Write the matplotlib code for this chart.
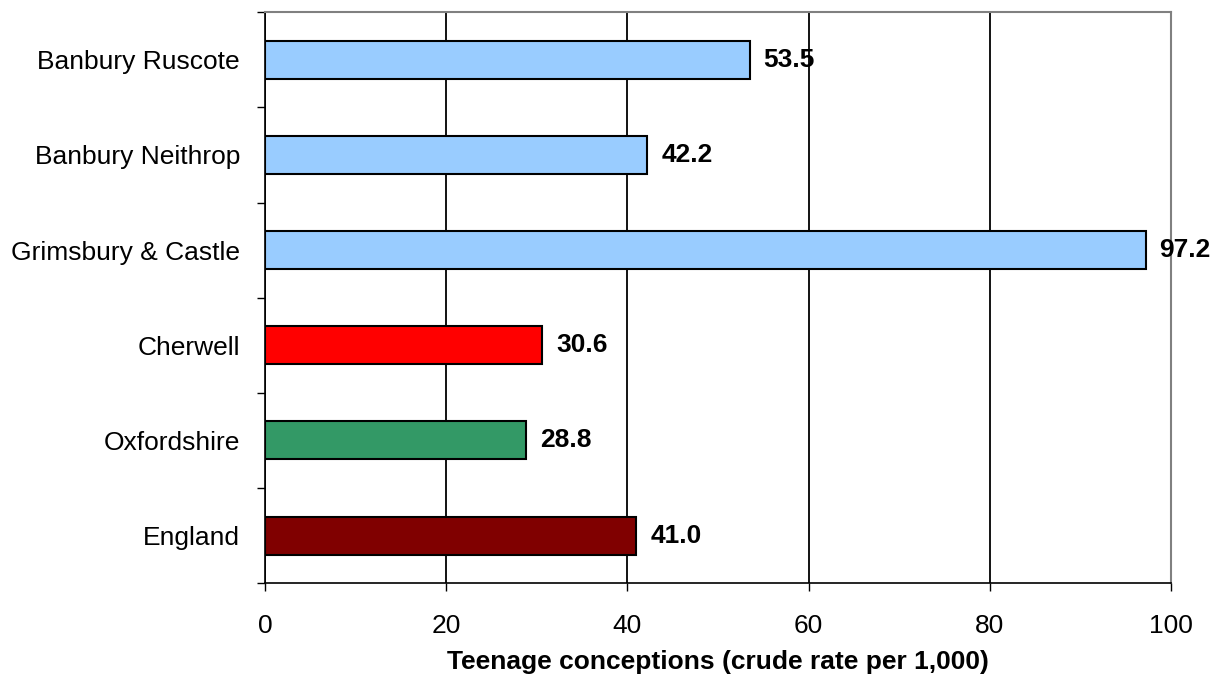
import numpy as np
import matplotlib.pyplot as plt

areas = ['Banbury Ruscote', 'Banbury Neithrop', 'Grimsbury & Castle',
         'Cherwell', 'Oxfordshire', 'England']
rates = [53.5, 42.2, 97.2, 30.6, 28.8, 41.0]
bar_colors = ['#99CCFF', '#99CCFF', '#99CCFF', '#FF0000', '#339966', '#800000']

plt.rcParams['font.family'] = ['Liberation Sans', 'DejaVu Sans']

fig = plt.figure(figsize=(12.21, 6.82), dpi=100)
ax = fig.add_axes([0.217, 0.145, 0.742, 0.837])

y = np.arange(len(areas))
ax.barh(y, rates, height=0.4, color=bar_colors, edgecolor='black',
        linewidth=1.5, zorder=3)

for yi, v in zip(y, rates):
    ax.annotate(f'{v:.1f}', (v, yi), xytext=(10, 0), textcoords='offset points',
                ha='left', va='center', fontsize=19, fontweight='bold', zorder=4)

ax.set_xlim(0, 100)
ax.set_ylim(len(areas) - 0.5, -0.5)
ax.set_xticks(np.arange(0, 101, 20))
ax.tick_params(axis='x', labelsize=19, length=6, width=1, direction='out', pad=16)

# category ticks at boundaries, labels at centres
ax.set_yticks(np.arange(-0.5, len(areas), 1.0))
ax.set_yticklabels([])
ax.tick_params(axis='y', which='major', length=6, width=1, direction='out')
ax.set_yticks(y, minor=True)
ax.set_yticklabels(areas, minor=True, fontsize=19)
ax.tick_params(axis='y', which='minor', length=0, pad=18)

ax.xaxis.grid(True, color='black', linewidth=1.3, zorder=0)
ax.set_axisbelow(True)

for side in ['top', 'right']:
    ax.spines[side].set_color('#808080')
    ax.spines[side].set_linewidth(1.5)
for side in ['left', 'bottom']:
    ax.spines[side].set_color('black')
    ax.spines[side].set_linewidth(1.2)

ax.set_xlabel('Teenage conceptions (crude rate per 1,000)', fontsize=19,
              fontweight='bold', labelpad=9)

fig.savefig('out.png', dpi=100)
